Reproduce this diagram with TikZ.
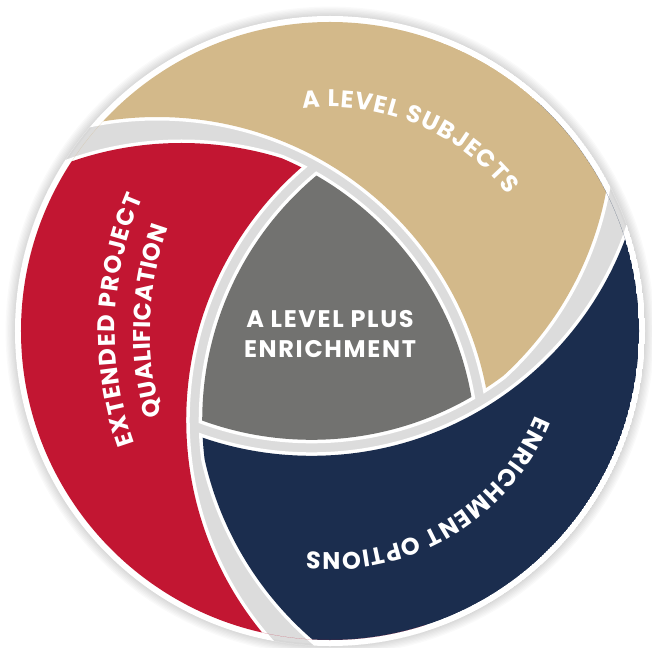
\documentclass[tikz,border=0pt]{standalone}
\usepackage{fontspec}
\usepackage{tikz}
\usetikzlibrary{decorations.text}
\newfontfamily\lblfont{Poppins}[LetterSpace=7]
\newfontfamily\arcfont{Poppins}

\definecolor{levtan}{HTML}{D3B98A}
\definecolor{levnavy}{HTML}{1B2D4E}
\definecolor{levred}{HTML}{C21632}
\definecolor{levgrey}{HTML}{727270}
\definecolor{levgap}{HTML}{DCDCDC}

\newcommand\arcstyle{\arcfont\bfseries\fontsize{24}{28}\selectfont}

\def\Rout{309}
\def\dT{211}
\def\rO{335}
\def\rI{319}
\def\dB{209}
\def\rB{335}

% colour, tip circle, cut circle, blunt circle, offset, outer offset
\newcommand\segment[6]{%
  \begin{scope}
    \clip (0,0) circle[radius=\Rout+#6];
    \clip (#3:\dT) circle[radius=\rI+#5];
    \clip (#4:\dB) circle[radius=\rB+#5];
    \fill[#1,even odd rule] (0,0) circle[radius=\Rout+#6] (#2:\dT) circle[radius=\rO-#5];
  \end{scope}}
\newcommand\hub[2]{%
  \begin{scope}
    \clip (215:\dT) circle[radius=\rI+#2];
    \clip (95:\dT) circle[radius=\rI+#2];
    \fill[#1] (335:\dT) circle[radius=\rI+#2];
  \end{scope}}

\begin{document}
\begin{tikzpicture}[x=1pt,y=1pt,
    bandtext/.style={decorate,decoration={text along path,text align={fit to path},text color=white}}]
  \useasboundingbox (-330,-316) rectangle (322,331);
  \fill[white] (-330,-316) rectangle (322,331);
  \foreach \k in {1,...,8}
    \fill[black,opacity=0.02] (0,0) circle[radius=\Rout+5+1.3*\k];
  \fill[levgap] (0,0) circle[radius=\Rout+4];
  % white rims
  \segment{white}{215}{95}{104.7}{3.5}{6}
  \segment{white}{95}{335}{344.7}{3.5}{6}
  \segment{white}{335}{215}{224.7}{3.5}{6}
  \hub{white}{3.5}
  % bands
  \segment{levtan}{215}{95}{104.7}{0}{0}
  \segment{levnavy}{95}{335}{344.7}{0}{0}
  \segment{levred}{335}{215}{224.7}{0}{0}
  \hub{levgrey}{0}
  \node[text=white,align=center,font=\lblfont\bfseries\fontsize{24}{30}\selectfont] (hubtext) at (0,-3) {A LEVEL PLUS\\ENRICHMENT};
  \path[bandtext,decoration={text={|\arcstyle|A LEVEL SUBJECTS}}] (97:224) arc[start angle=97,end angle=37.5,radius=224];
  \path[bandtext,decoration={text={|\arcstyle|ENRICHMENT OPTIONS}}] (-22.5:222) arc[start angle=-22.5,end angle=-96,radius=222];
  \path[bandtext,decoration={text={|\arcstyle|EXTENDED PROJECT}}] ([shift={(120,0)}]199.6:335) arc[start angle=199.6,end angle=156.5,radius=335];
  \path[bandtext,decoration={text={|\arcstyle|QUALIFICATION}}] ([shift={(120,0)}]196.3:300) arc[start angle=196.3,end angle=159.8,radius=300];
\end{tikzpicture}
\end{document}
